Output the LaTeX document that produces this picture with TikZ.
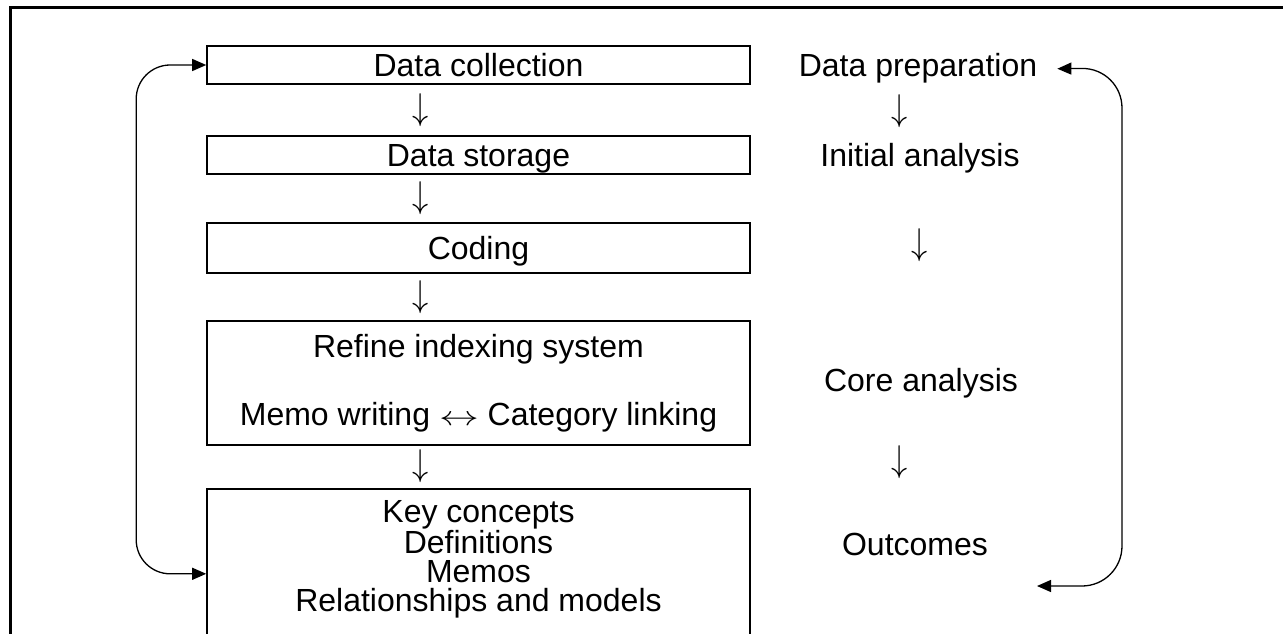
\documentclass[tikz,border=0pt]{standalone}
\usepackage{fontspec}
\setmainfont{Liberation Sans}
\usetikzlibrary{arrows.meta,positioning}
\tikzset{
	>={Triangle[length=14pt,width=12pt]},
	stagebox/.style={draw, line width=1.6pt, minimum width=543pt, align=center,
		inner sep=0pt, font=\fontsize{32}{29}\selectfont},
	oneline/.style={text depth=0pt},
	phase/.style={font=\fontsize{32}{29}\selectfont, inner sep=0pt, anchor=base},
	itemtext/.style={font=\fontsize{32}{29}\selectfont, inner sep=0pt, align=center},
	flowarrow/.style={font=\fontsize{24}{24}\selectfont, inner sep=0pt},
	loop/.style={<->, line width=1.3pt}
}
\newcommand{\biarrow}{\scalebox{1.6}[1.1]{$\leftrightarrow$}}
\newcommand{\downflow}{\scalebox{1.3}[1.5]{$\downarrow$}}

\begin{document}
\begin{tikzpicture}[x=1pt,y=-1pt]
	\useasboundingbox (0,0) rectangle (1283,634);
	
	% frame
	\draw[line width=3pt] (10,660) -- (10,8) -- (1300,8);
	
	% left column: stages
	\node[stagebox, oneline, minimum height=38pt] (collect) at (478.5,65) {Data collection};
	\node[stagebox, oneline, minimum height=38pt] (store) at (478.5,155) {Data storage};
	\node[stagebox, oneline, minimum height=50pt] (coding) at (478.5,248) {Coding};
	\node[stagebox, minimum height=124pt] (refine) at (478.5,383)
		{Refine indexing system\\[37pt]Memo writing \biarrow\ Category linking};
	\node[stagebox, anchor=north, minimum height=170pt] (outputs) at (478.5,488) {};
	\node[itemtext, below=12pt of outputs.north] (outlist)
		{Key concepts\\Definitions\\Memos\\Relationships and models};
	
	\node[flowarrow] (la1) at (421,110) {\downflow};
	\node[flowarrow] (la2) at (421,198) {\downflow};
	\node[flowarrow] (la3) at (421,297) {\downflow};
	\node[flowarrow] (la4) at (421,466) {\downflow};
	
	% right column: phases
	\node[phase] (prep) at (918,77) {Data preparation};
	\node[phase] (initial) at (920,166) {Initial analysis};
	\node[phase] (core) at (921,391) {Core analysis};
	\node[phase] (outcomes) at (915,555) {Outcomes};
	
	\node[flowarrow] (ra1) at (900,111) {\downflow};
	\node[flowarrow] (ra2) at (920,245) {\downflow};
	\node[flowarrow] (ra3) at (900,462) {\downflow};
	
	% feedback loops
	\coordinate (prepin) at ([xshift=20pt]prep.east);
	\coordinate (outin) at (1037,586);
	\draw[loop, rounded corners=34pt] (outputs.west) -- ++(-70,0) |- (collect.west);
	\draw[loop, rounded corners=40pt] (outin) -- (1122,586) -- (1122,68) -- (prepin);
	
\end{tikzpicture}
\end{document}
